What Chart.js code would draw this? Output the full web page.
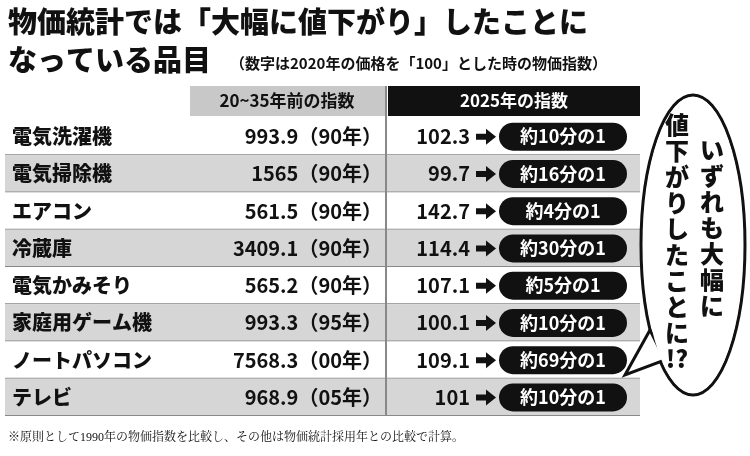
<!DOCTYPE html><html><head><meta charset="utf-8">
<script src="https://cdn.jsdelivr.net/npm/chart.js@4"></script>
<style>body{margin:0;background:#fff}#w{width:750px;height:456px}</style></head><body>
<div id="w"><canvas id="c"></canvas></div>
<script>
const items=["電気洗濯機","電気掃除機","エアコン","冷蔵庫","電気かみそり","家庭用ゲーム機","ノートパソコン","テレビ"];
const pastIndex=["993.9","1565","561.5","3409.1","565.2","993.3","7568.3","968.9"];
const pastYear=["90年","90年","90年","90年","90年","95年","00年","05年"];
const index2025=["102.3","99.7","142.7","114.4","107.1","100.1","109.1","101"];
const ratio=["約10分の1","約16分の1","約4分の1","約30分の1","約5分の1","約10分の1","約69分の1","約10分の1"];
const F='"Noto Sans CJK JP"';
function rr(ctx,x,y,w,h,r){ctx.beginPath();ctx.moveTo(x+r,y);ctx.arcTo(x+w,y,x+w,y+h,r);ctx.arcTo(x+w,y+h,x,y+h,r);ctx.arcTo(x,y+h,x,y,r);ctx.arcTo(x,y,x+w,y,r);ctx.closePath();}
const tablePlugin={id:'tbl',beforeDraw(ch){
 const ctx=ch.ctx,ys=ch.scales.y;ctx.save();
 ctx.fillStyle='#fff';ctx.fillRect(0,0,750,456);
 ctx.fillStyle='#111';ctx.textBaseline='middle';ctx.textAlign='left';
 ctx.font='900 29px '+F;ctx.fillText('物価統計では「大幅に値下がり」したことに',8,22);
 ctx.fillText('なっている品目',8,60);
 ctx.font='bold 15px '+F;ctx.fillText('（数字は2020年の価格を「100」とした時の物価指数）',230,63);
 ctx.fillStyle='#c8c8c8';ctx.fillRect(190,86,195,30);
 ctx.fillStyle='#111';ctx.fillRect(388,86,252,30);
 ctx.font='bold 17px '+F;ctx.textAlign='center';
 ctx.fillStyle='#111';ctx.fillText('20~35年前の指数',287,101);
 ctx.fillStyle='#fff';ctx.fillText('2025年の指数',514,101);
 const h=ys.getPixelForValue(1)-ys.getPixelForValue(0);
 items.forEach((it,i)=>{
  const yc=ys.getPixelForValue(i),top=yc-h/2;
  ctx.fillStyle=i%2?'#d6d6d6':'#fff';ctx.fillRect(5,top,635,h);
  ctx.fillStyle='#888';ctx.fillRect(5,top+h-1,635,1);
  ctx.fillStyle='#111';ctx.textAlign='left';ctx.font='900 20px '+F;ctx.fillText(it,12,yc);
  ctx.textAlign='right';ctx.font='bold 20px '+F;ctx.fillText(pastIndex[i]+'（'+pastYear[i]+'）',382,yc);
  ctx.fillText(index2025[i],470,yc);
  ctx.beginPath();ctx.moveTo(476,yc-3);ctx.lineTo(486,yc-3);ctx.lineTo(486,yc-8);ctx.lineTo(496,yc);ctx.lineTo(486,yc+8);ctx.lineTo(486,yc+3);ctx.lineTo(476,yc+3);ctx.closePath();ctx.fill();
  rr(ctx,499,yc-14,128,28,14);ctx.fill();
  ctx.fillStyle='#fff';ctx.textAlign='center';ctx.font='bold 18px '+F;ctx.fillText(ratio[i],563,yc);
 });
 ctx.fillStyle='#888';ctx.fillRect(385,86,2,ys.getPixelForValue(7)+h/2-86);
 ctx.fillStyle='#fff';ctx.strokeStyle='#111';ctx.lineWidth=3;
 ctx.beginPath();ctx.ellipse(693,245,52,150,0,0,Math.PI*2);ctx.fill();ctx.stroke();
 ctx.beginPath();ctx.moveTo(650,330);ctx.lineTo(625,375);ctx.lineTo(665,360);ctx.closePath();ctx.fill();ctx.stroke();
 ctx.fillStyle='#fff';ctx.beginPath();ctx.ellipse(693,245,50,148,0,0,Math.PI*2);ctx.fill();
 ctx.fillStyle='#111';ctx.font='900 24px '+F;ctx.textAlign='center';
 const c1=['い','ず','れ','も','大','幅','に'],c2=['値','下','が','り','し','た','こ','と','に','!?'];
 c1.forEach((c,k)=>ctx.fillText(c,712,150+k*26));
 c2.forEach((c,k)=>ctx.fillText(c,677,125+k*26));
 ctx.font='12px "Liberation Serif", "Noto Serif CJK JP", serif';ctx.textAlign='left';
 ctx.fillText('※原則として1990年の物価指数を比較し、その他は物価統計採用年との比較で計算。',8,438);
 ctx.restore();
}};
new Chart(document.getElementById('c'),{type:'bar',data:{labels:items,datasets:[{data:items.map(()=>0)}]},
 options:{responsive:true,maintainAspectRatio:false,animation:false,indexAxis:'y',
 layout:{padding:{top:118,bottom:40,left:0,right:0}},
 plugins:{legend:{display:false},tooltip:{enabled:false}},
 scales:{x:{display:false},y:{display:false}}},plugins:[tablePlugin]});
</script></body></html>
